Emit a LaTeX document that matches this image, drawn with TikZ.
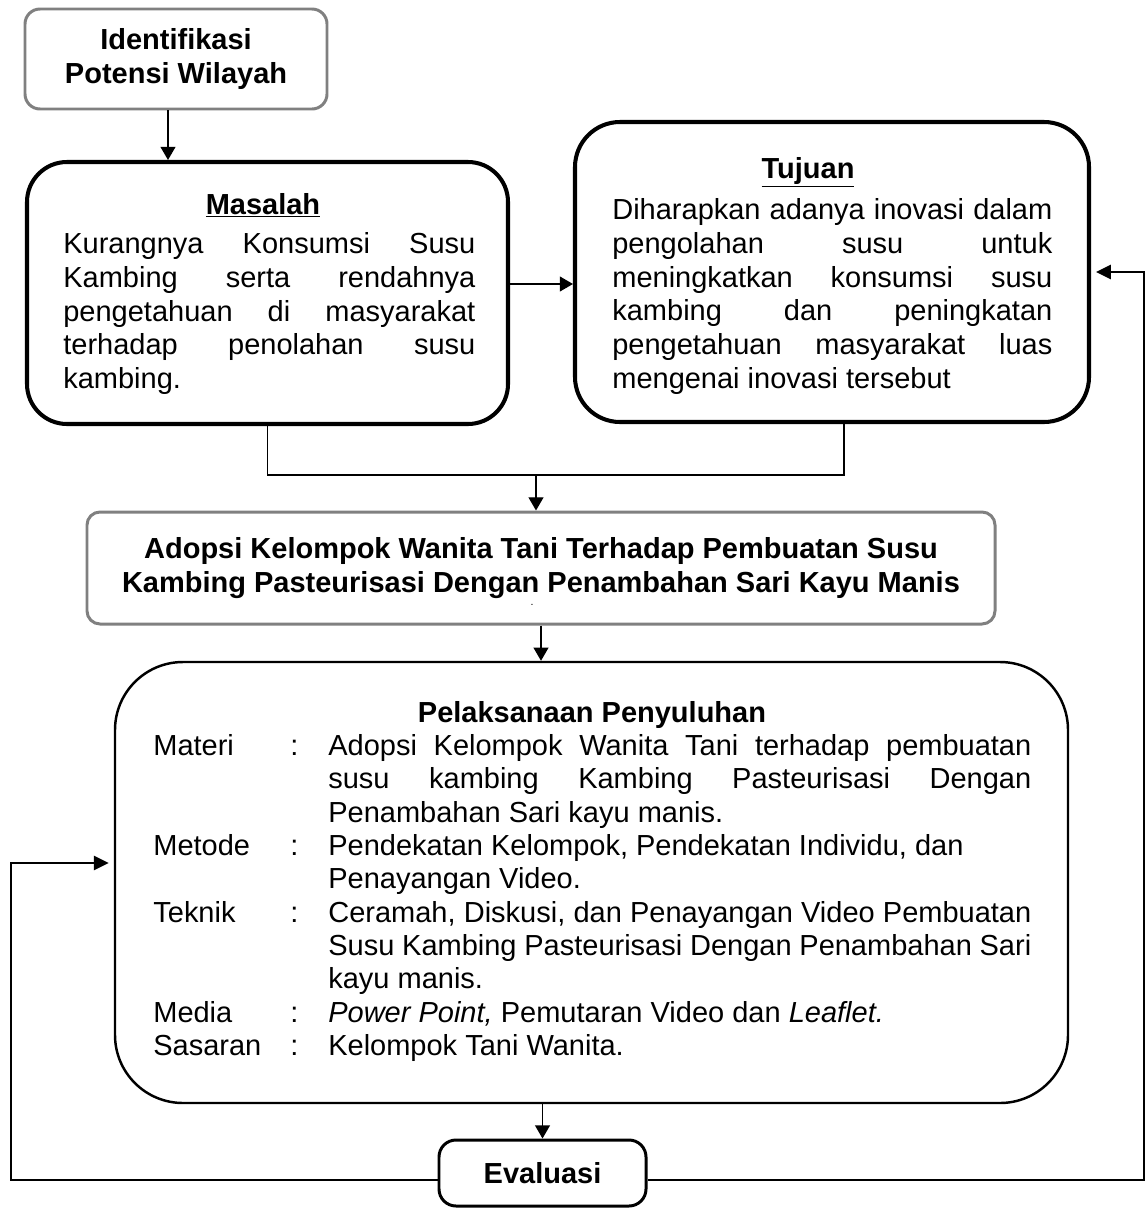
\documentclass[tikz,border=0pt]{standalone}
\usepackage{fontspec}
\setmainfont{Liberation Sans}
\usepackage{array}
\usetikzlibrary{arrows.meta,positioning,calc}
\newcommand{\diagfont}{\fontsize{16.5}{19.3}\selectfont}
\tikzset{
  greybox/.style={draw=black!50, line width=1.7pt, rounded corners=0.3cm, align=center, inner sep=0pt, font=\diagfont\bfseries},
  blackbox/.style={draw=black, line width=2.3pt, inner sep=0pt},
  arrow/.style={-{Triangle[length=7.5pt,width=8.5pt]}, line width=0.75pt},
  line/.style={line width=0.75pt},
  fbarrow/.style={-{Triangle[length=8.5pt,width=8pt]}, line width=1.5pt, shorten >=0.1cm}
}
\begin{document}
\begin{tikzpicture}[
  ttl/.style={inner sep=0pt, anchor=base, font=\diagfont\bfseries},
  body/.style={inner sep=0pt, anchor=north west, align=justify, font=\diagfont}
]
\useasboundingbox (0,0) rectangle (22.92,-24.16);
% boxes
\node[greybox, minimum width=6.04cm, minimum height=2.0cm] (ident) at (3.52,-1.18) {Identifikasi\\Potensi Wilayah};
\node[blackbox, rounded corners=0.8cm, minimum width=9.62cm, minimum height=5.24cm] (masalah) at (5.35,-5.86) {};
\node[blackbox, rounded corners=0.9cm, minimum width=10.28cm, minimum height=6.0cm] (tujuan) at (16.64,-5.44) {};
\node[greybox, rounded corners=0.26cm, minimum width=18.16cm, minimum height=2.24cm] (adopsi) at (10.82,-11.36) {Adopsi Kelompok Wanita Tani Terhadap Pembuatan Susu\\Kambing Pasteurisasi Dengan Penambahan Sari Kayu Manis};
\node[inner sep=0pt, font=\fontsize{6}{7}\selectfont] (dot) at (10.64,-12.1) {.};
\node[draw, line width=1.4pt, rounded corners=1.36cm, minimum width=19.06cm, minimum height=8.82cm] (pelaks) at (11.83,-17.65) {};
\node[draw, line width=1.7pt, rounded corners=0.34cm, minimum width=4.14cm, minimum height=1.32cm, font=\diagfont\bfseries] (evaluasi) at (10.85,-23.46) {Evaluasi};
% masalah
\node[ttl] (masalahttl) at (5.26,-4.28) {\underline{Masalah}};
\node[body, text width=8.24cm] (masalahtxt) at (1.26,-4.583) {\strut Kurangnya Konsumsi Susu\linebreak Kambing serta rendahnya\linebreak pengetahuan di masyarakat\linebreak terhadap penolahan susu\linebreak kambing.};
% tujuan
\node[ttl] (tujuanttl) at (16.16,-3.56) {\underline{Tujuan}};
\node[body, text width=8.8cm] (tujuantxt) at (12.24,-3.903) {\strut Diharapkan adanya inovasi dalam\linebreak pengolahan susu untuk\linebreak meningkatkan konsumsi susu\linebreak kambing dan peningkatan\linebreak pengetahuan masyarakat luas\linebreak mengenai inovasi tersebut};
% pelaksanaan
\node[ttl] (pelaksttl) at (11.84,-14.44) {Pelaksanaan Penyuluhan};
\node[inner sep=0pt, anchor=north west, font=\fontsize{16.5}{19}\selectfont] (pelakstxt) at (3.06,-14.63) {%
\begin{tabular}{@{}p{2.74cm}@{}p{0.76cm}@{}p{14.06cm}@{}}
Materi & : & Adopsi Kelompok Wanita Tani terhadap pembuatan\linebreak susu kambing Kambing Pasteurisasi Dengan\linebreak Penambahan Sari kayu manis.\\
Metode & : & Pendekatan Kelompok, Pendekatan Individu, dan\newline Penayangan Video.\\
Teknik & : & Ceramah, Diskusi, dan Penayangan Video Pembuatan\linebreak Susu Kambing Pasteurisasi Dengan Penambahan Sari\linebreak kayu manis.\\
Media & : & \textit{Power Point,} Pemutaran Video dan \textit{Leaflet.}\\
Sasaran & : & Kelompok Tani Wanita.\\
\end{tabular}};
% connectors
\coordinate (join) at (10.72,-9.5);
\coordinate (lbot) at (0.22,-23.6);
\coordinate (ltop) at (0.22,-17.26);
\coordinate (rbot) at (22.88,-23.6);
\coordinate (rtop) at (22.88,-5.44);
\draw[arrow] ([xshift=-0.16cm]ident.south) -- ([xshift=-0.16cm]ident.south |- masalah.north);
\draw[arrow] ([yshift=0.18cm]masalah.east) -- ([yshift=0.18cm]masalah.east -| tujuan.west);
\draw[line] (masalah.south) |- (join) -| ([xshift=0.24cm]tujuan.south);
\draw[arrow] (join) -- (join |- adopsi.north);
\draw[arrow] (adopsi.south) -- (adopsi.south |- pelaks.north);
\draw[arrow] (pelaks.south -| evaluasi.north) -- (evaluasi.north);
\draw[fbarrow] ([yshift=-0.14cm]evaluasi.west) -- (lbot) -- (ltop) -- (ltop -| pelaks.west);
\draw[fbarrow] ([yshift=-0.14cm]evaluasi.east) -- (rbot) -- (rtop) -- (tujuan.east);
\end{tikzpicture}
\end{document}
